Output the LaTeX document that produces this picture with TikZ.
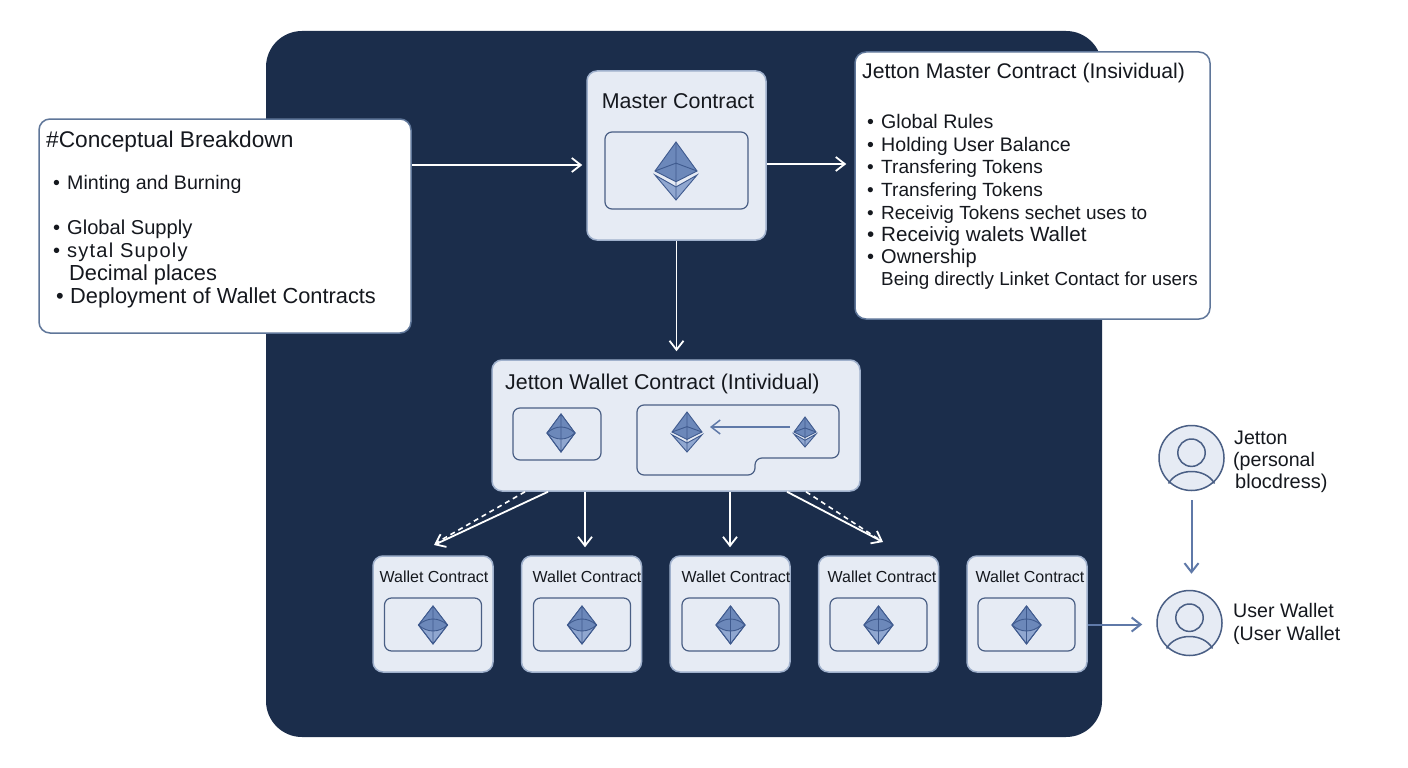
\documentclass[tikz,border=0pt]{standalone}
\usepackage{fontspec}
\setmainfont{Liberation Sans}
\usepackage{tikz}
\usetikzlibrary{arrows.meta,positioning}

\definecolor{navy}{HTML}{1B2D4B}
\definecolor{cardfill}{HTML}{E6EBF4}
\definecolor{cardline}{HTML}{9FB0CC}
\definecolor{slateline}{HTML}{4A5F85}
\definecolor{panelline}{HTML}{5F7699}
\definecolor{steel}{HTML}{5F79A8}
\definecolor{ethdark}{HTML}{6C88BA}
\definecolor{ethlight}{HTML}{90A7D0}
\definecolor{ethline}{HTML}{3F5A8E}
\definecolor{ink}{HTML}{15181E}

\newcommand{\bul}{\makebox[14pt][l]{•}}

\tikzset{
  panel/.style={draw=panelline, line width=1.5pt, fill=white, rounded corners=11pt, inner sep=0pt},
  card/.style={draw=cardline, line width=1.5pt, fill=cardfill, rounded corners=10pt, inner sep=0pt},
  walletcard/.style={card, minimum width=120pt, minimum height=116pt},
  innerbox/.style={draw=slateline, line width=1.2pt, inner sep=0pt},
  walletbox/.style={innerbox, rounded corners=7pt, minimum width=97pt, minimum height=53pt},
  label/.style={inner sep=0pt, text=ink, anchor=base west, font=\fontsize{19.6}{23}\selectfont},
  title/.style={label, font=\fontsize{21.4}{25}\selectfont},
  smalltitle/.style={label, anchor=base, font=\fontsize{16}{19}\selectfont},
  flow/.style={draw=white, line width=1.8pt, -{Straight Barb[length=9pt,width=14pt]}},
  dashflow/.style={draw=white, line width=1.6pt, dash pattern=on 5pt off 4pt},
  sideflow/.style={draw=steel, line width=2pt, -{Straight Barb[length=9pt,width=14pt]}},
  avatar/.style={circle, draw=slateline, line width=1.5pt, fill=cardfill, minimum size=65pt, inner sep=0pt},
  ethicon/.pic={
    \filldraw[draw=ethline, line width=.9pt, fill=ethlight] (-1,.14) -- (0,.55) -- (1,.14) -- (0,1) -- cycle;
    \filldraw[draw=ethline, line width=.9pt, fill=ethdark] (0,-1) -- (1,0) -- (0,.37) -- (-1,0) -- cycle;
    \draw[ethline, line width=.9pt] (-1,0) -- (0,-.27) -- (1,0) (0,-1) -- (0,1);
  },
  ethsmall/.pic={
    \filldraw[draw=ethline, line width=.9pt, fill=ethlight] (0,-1) -- (1,0) -- (0,1) -- (-1,0) -- cycle;
    \fill[ethdark] (0,-1) -- (1,0) .. controls (.4,.42) and (-.4,.42) .. (-1,0) -- cycle;
    \draw[ethline, line width=.9pt] (-1,0) .. controls (-.4,-.42) and (.4,-.42) .. (1,0);
    \draw[ethline, line width=.9pt] (-1,0) .. controls (-.4,.42) and (.4,.42) .. (1,0);
    \draw[ethline, line width=.9pt] (0,-1) -- (1,0) -- (0,1) -- (-1,0) -- cycle (0,-1) -- (0,1);
  },
  shoulders/.pic={
    \draw[slateline, line width=1.5pt] (-23,25.5) .. controls (-14,9.5) and (14,9.5) .. (23,25.5);
    \draw[slateline, line width=1.5pt] (0,-5.3) circle (13.7);
  }
}

\begin{document}
\begin{tikzpicture}[x=1pt,y=-1pt]
        \useasboundingbox[fill=white] (0,0) rectangle (1408,768);

        \node (back)[fill=navy, rounded corners=36pt, minimum width=836pt, minimum height=706pt, inner sep=0pt] at (684,384) {};

        %% main cards
        \node (master)[card, minimum width=179pt, minimum height=169pt] at (676.5,155.5) {};
        \node (masterbox)[innerbox, rounded corners=7pt, minimum width=143pt, minimum height=77pt] at (676.5,170.5) {};
        \node (mastertitle)[title, anchor=base] at (678,108) {Master Contract};
        \pic[xscale=21,yscale=29] at (676,171) {ethicon};

        \node (jetton)[card, minimum width=368pt, minimum height=131pt] at (676,425.5) {};
        \node (jettontitle)[title] at (505,389) {Jetton Wallet Contract (Intividual)};
        \node (jettonbox)[innerbox, rounded corners=7pt, minimum width=88pt, minimum height=52pt] at (557,434) {};
        \pic[xscale=14,yscale=19] at (561,433) {ethsmall};
        \draw[innerbox, rounded corners=7pt] (637,440) -- (637,475) -- (755,475) -- (755,458) -- (839,458) -- (839,405) -- (637,405) -- cycle;
        \pic[xscale=15,yscale=20] at (687,432) {ethicon};
        \pic[xscale=11,yscale=15] at (805,432) {ethicon};
        \coordinate (swapfrom) at (790,427);
        \coordinate (swapto) at (710,427);
        \draw[sideflow, line width=1.5pt] (swapfrom) -- (swapto);

        %% wallet row
        \node (wallet1)[walletcard] at (433,614) {};
        \node (wallet2)[walletcard, right=27pt of wallet1] {};
        \node (wallet3)[walletcard, right=27pt of wallet2] {};
        \node (wallet4)[walletcard, right=27pt of wallet3] {};
        \node (wallet5)[walletcard, right=27pt of wallet4] {};

        \node (box1)[walletbox] at (433,624.5) {};
        \node (box2)[walletbox] at (582,624.5) {};
        \node (box3)[walletbox] at (730.5,624.5) {};
        \node (box4)[walletbox] at (878.5,624.5) {};
        \node (box5)[walletbox] at (1026.5,624.5) {};

        \node (wtitle1)[smalltitle] at (434,582) {Wallet Contract};
        \node (wtitle2)[smalltitle] at (587,582) {Wallet Contract};
        \node (wtitle3)[smalltitle] at (736,582) {Wallet Contract};
        \node (wtitle4)[smalltitle] at (882,582) {Wallet Contract};
        \node (wtitle5)[smalltitle] at (1030,582) {Wallet Contract};

        \pic[xscale=14.5,yscale=19] at (433,625) {ethsmall};
        \pic[xscale=14.5,yscale=19] at (582,625) {ethsmall};
        \pic[xscale=14.5,yscale=19] at (730.5,625) {ethsmall};
        \pic[xscale=14.5,yscale=19] at (878.5,625) {ethsmall};
        \pic[xscale=14.5,yscale=19] at (1026.5,625) {ethsmall};

        %% left panel
        \node (breakdown)[panel, minimum width=372pt, minimum height=214pt] at (225,226) {};
        \node (bdtitle)[title, font=\fontsize{22.7}{26}\selectfont] at (46,147) {\#Conceptual Breakdown};
        \node (bd1)[label] at (53,189) {\bul Minting and Burning};
        \node (bd2)[label, font=\fontsize{20.1}{23}\selectfont] at (53,234) {\bul Global Supply};
        \node (bd3)[label, font=\fontsize{20.1}{23}\selectfont] at (53,257) {\bul \addfontfeature{LetterSpace=6}sytal Supoly};
        \node (bd4)[label, font=\fontsize{21.8}{25}\selectfont] at (69,280) {Decimal places};
        \node (bd5)[label, font=\fontsize{21.8}{25}\selectfont] at (56,303) {\bul Deployment of Wallet Contracts};

        %% right panel
        \node (rules)[panel, minimum width=355pt, minimum height=267pt] at (1032.5,185.5) {};
        \node (rulestitle)[title, font=\fontsize{21.2}{25}\selectfont] at (862,78) {Jetton Master Contract (Insividual)};
        \node (ru1)[label] at (867,128) {\bul Global Rules};
        \node (ru2)[label] at (867,151) {\bul Holding User Balance};
        \node (ru3)[label, font=\fontsize{19.1}{23}\selectfont] at (867,173) {\bul Transfering Tokens};
        \node (ru4)[label, font=\fontsize{19.1}{23}\selectfont] at (867,196) {\bul Transfering Tokens};
        \node (ru5)[label, font=\fontsize{19}{23}\selectfont] at (867,219) {\bul Receivig Tokens sechet uses to};
        \node (ru6)[label, font=\fontsize{20.6}{23}\selectfont] at (867,241) {\bul Receivig walets Wallet};
        \node (ru7)[label, font=\fontsize{20}{23}\selectfont] at (867,263) {\bul Ownership};
        \node (ru8)[label, font=\fontsize{18.8}{23}\selectfont] at (881,285) {Being directly Linket Contact for users};

        %% people
        \node (person1)[avatar] at (1191.5,458) {};
        \pic at (person1) {shoulders};
        \node (p1a)[label] at (1234,444) {Jetton};
        \node (p1b)[label] at (1233,466) {(personal};
        \node (p1c)[label, font=\fontsize{20}{23}\selectfont] at (1235,488) {blocdress)};
        \node (person2)[avatar] at (1189.5,623) {};
        \pic at (person2) {shoulders};
        \node (p2a)[label] at (1233,617) {User Wallet};
        \node (p2b)[label] at (1233,640) {(User Wallet};

        %% arrows
        \coordinate (tipa) at (434,545);
        \coordinate (tipb) at (436,543);
        \coordinate (tipc) at (883,542);
        \coordinate (tipd) at (880,540);
        \draw[flow] (breakdown.east |- 0,165) -- ([xshift=-4pt]master.west |- 0,165);
        \draw[flow] (master.east |- 0,164) -- ([xshift=-8pt]rules.west |- 0,164);
        \draw[flow] (master.south) -- ([yshift=8pt]jetton.north -| master.south);
        \draw[flow] (jetton.south -| 548,0) -- (tipa);
        \draw[dashflow] (jetton.south -| 525,0) -- (tipb);
        \draw[flow] (jetton.south -| 585,0) -- ([yshift=8pt]wallet2.north -| 585,0);
        \draw[flow] (jetton.south -| 730,0) -- ([yshift=8pt]wallet3.north -| 730,0);
        \draw[flow] (jetton.south -| 787,0) -- (tipc);
        \draw[dashflow] (jetton.south -| 806,0) -- (tipd);
        \draw[sideflow] ([yshift=-9pt]person1.south) -- ([yshift=16pt]person2.north -| person1.south);
        \draw[sideflow] (wallet5.east |- box5.east) -- ([xshift=-14pt]person2.west |- box5.east);

\end{tikzpicture}
\end{document}
